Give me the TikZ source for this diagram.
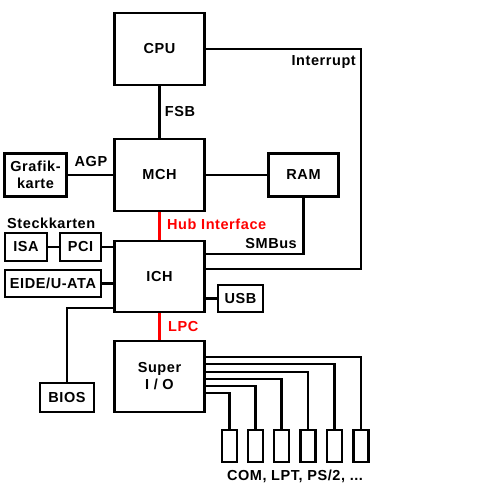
\documentclass[tikz,border=0pt]{standalone}
\usepackage{fontspec}
\setmainfont{Liberation Sans}[LetterSpace=4]
\usetikzlibrary{positioning}
\newcommand{\chipfont}{\fontsize{14.5bp}{17bp}\selectfont\bfseries}
\tikzset{
chip/.style={rectangle, draw, line width=2.2bp, minimum width=90bp, minimum height=71bp, font=\chipfont, align=center},
card/.style={rectangle, draw, line width=2.2bp, minimum height=28bp, inner sep=0pt, font=\chipfont, align=center},
port/.style={rectangle, draw, line width=2.2bp, minimum width=15bp, minimum height=32bp, inner sep=0pt},
bus/.style={line width=2.2bp},
hub/.style={line width=2.2bp, color=red},
buslabel/.style={font=\chipfont, inner sep=0pt}
}
\begin{document}
\begin{tikzpicture}[x=1bp, y=-1bp]
    \useasboundingbox (0,0) rectangle (504,487);
    % chipset column
    \node[chip, minimum height=72bp] (cpu) at (159.5,49) {CPU};
    \node[chip, minimum height=72bp] (mch) [below=51.8bp of cpu] {MCH};
    \node[chip] (ich) [below=27.8bp of mch] {ICH};
    \node[chip] (sio) [below=26.8bp of ich] {Super\\I / O};
    % devices
    \node[card, minimum width=62bp, minimum height=43bp] (gfx) [left=45.8bp of mch] {Grafik-\\karte};
    \node[card, minimum width=70bp, minimum height=43bp] (ram) [right=61.8bp of mch] {RAM};
    \node[card, minimum width=41bp] (pci) at (80.5,247) {PCI};
    \node[card, minimum width=42bp] (isa) [left=10.8bp of pci] {ISA};
    \node[card, minimum width=96bp, minimum height=27bp] (eide) at (53,283.5) {EIDE/U-ATA};
    \node[card, minimum width=45bp, minimum height=27bp] (usb) at (240.5,298.5) {USB};
    \node[card, minimum width=54bp, minimum height=29bp] (bios) at (67,397.5) {BIOS};
    \foreach \x [count=\i] in {229.5,255.5,281.5,308,334.5,361}
        \node[port] (p\i) at (\x,446) {};
    % labels
    \node[buslabel] (fsb) at (180,112) {FSB};
    \node[buslabel, anchor=east] (irq) at (356,62) {Interrupt};
    \node[buslabel] (agp) at (91,162) {AGP};
    \node[buslabel, anchor=west, text=red] (hubif) at (167,224) {Hub Interface};
    \node[buslabel, anchor=west] (steck) at (7,223) {Steckkarten};
    \node[buslabel, anchor=east] (smbus) at (297,244) {SMBus};
    \node[buslabel, anchor=west, text=red] (lpc) at (168,327) {LPC};
    \node[buslabel] (ports) at (295,476) {COM, LPT, PS/2, ...};
    % connectors
    \coordinate (irqbend) at (361,49);
    \draw[bus] (cpu) -- (mch);
    \draw[bus] (cpu.east) -- (irqbend) |- ([yshift=7.5bp]ich.east);
    \draw[bus] (gfx) -- (mch);
    \draw[bus] (mch) -- (ram);
    \draw[bus] (ram.south) |- ([yshift=22.5bp]ich.east);
    \draw[hub] (mch) -- (ich);
    \draw[bus] (isa) -- (pci);
    \draw[bus] (pci.east) -- (pci.east -| ich.west);
    \draw[bus] (eide.east) -- (eide.east -| ich.west);
    \draw[bus] (usb.west -| ich.east) -- (usb.west);
    \draw[bus] ([yshift=-31.5bp]ich.west) -| (bios.north);
    \draw[hub] (ich) -- (sio);
    \foreach \i/\dy in {1/-16.5, 2/-9.5, 3/-2.5, 4/4.5, 5/12.5, 6/19.5}
        \draw[bus] ([yshift=\dy bp]sio.east) -| (p\i.north);
\end{tikzpicture}
\end{document}
